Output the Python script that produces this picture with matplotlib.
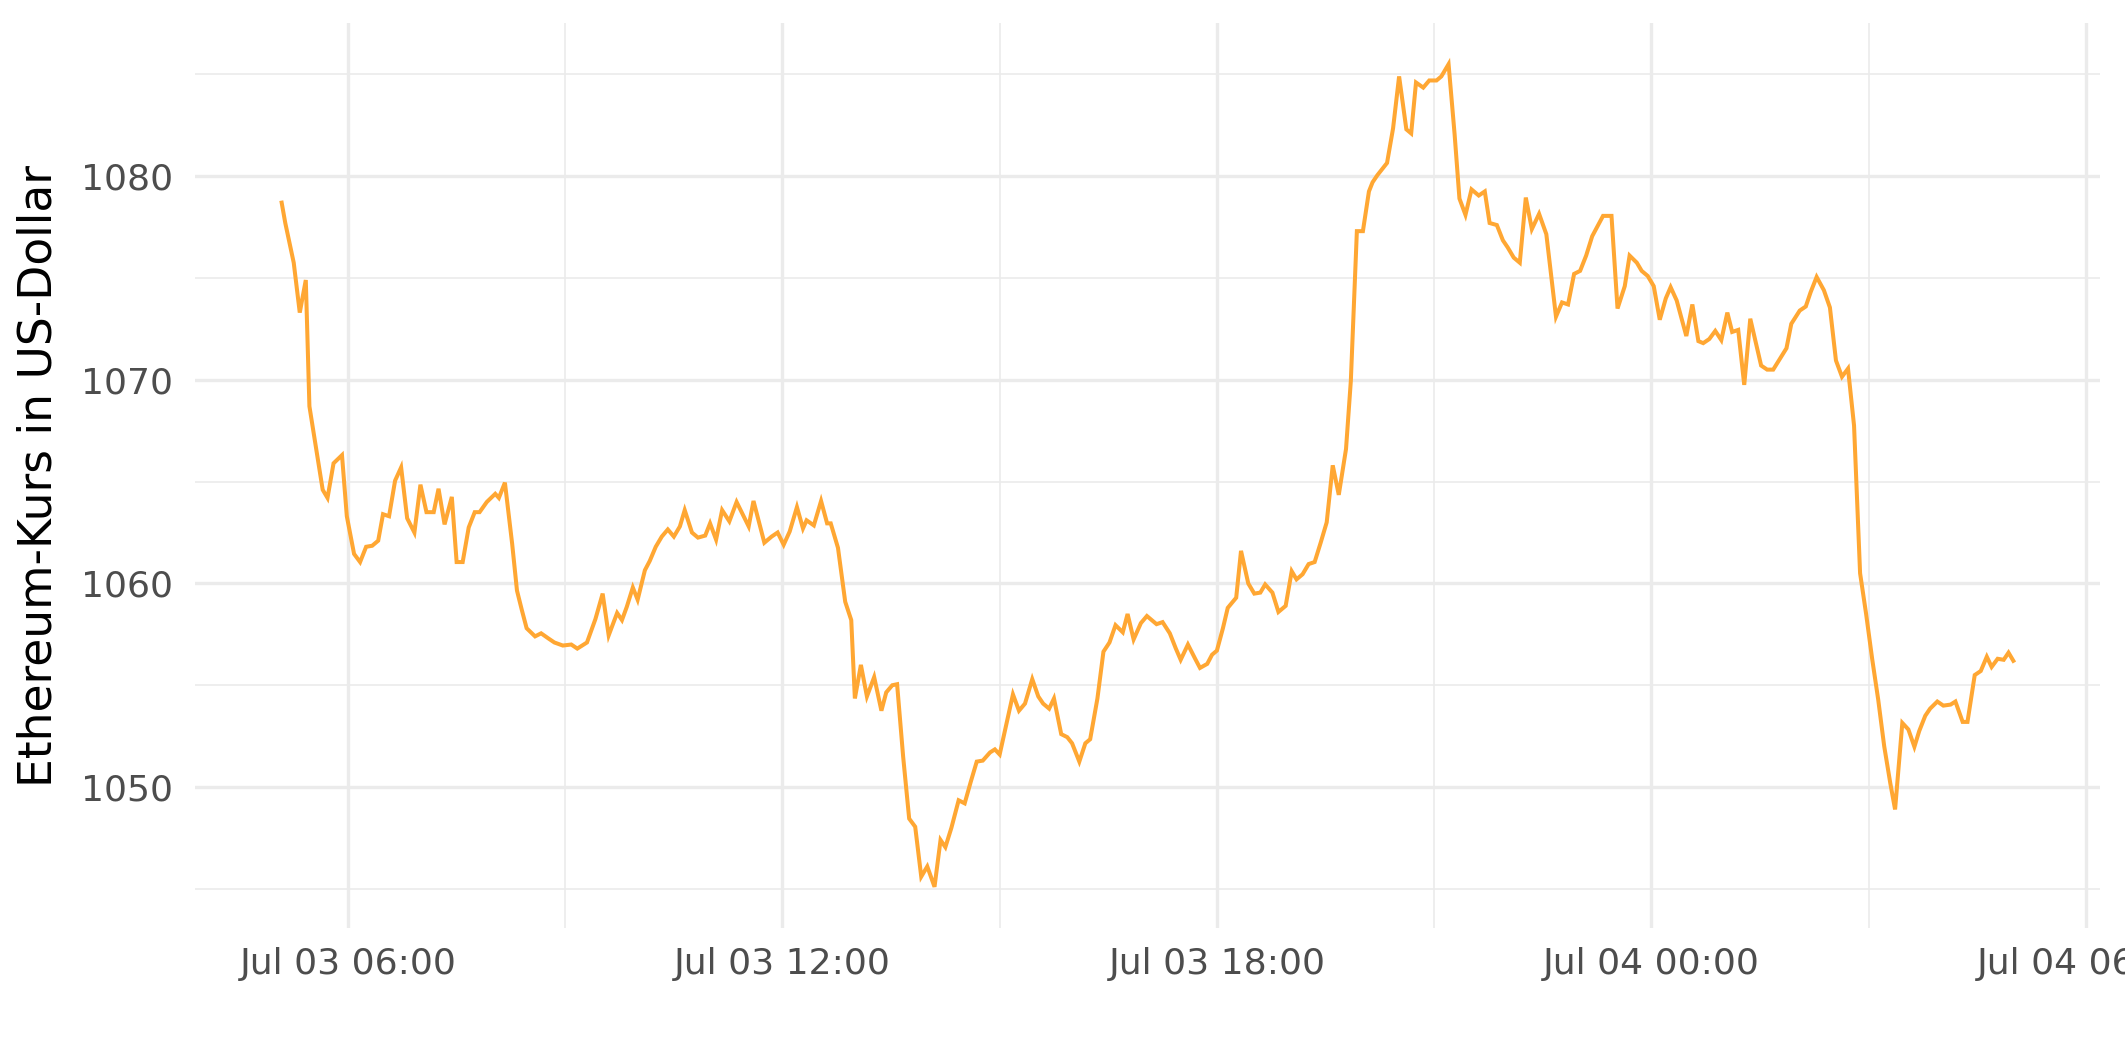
#%% Librerias
import numpy as np
import pandas as pd
import matplotlib
matplotlib.use('Agg')
import matplotlib.pyplot as plt
import matplotlib.dates as mdates

plt.rcParams['font.family'] = ['DejaVu Sans']

#%% Datos (minutos desde 2022-07-03 00:00, precio en USD)
minutos = [305, 308, 315, 320, 325, 328, 339, 343, 348, 355,
           359, 365, 370, 375, 380, 385, 389, 394, 399, 404,
           409, 415, 420, 425, 431, 435, 440, 446, 450, 455,
           460, 465, 469, 475, 482, 485, 490, 496, 500, 504,
           508, 515, 520, 526, 531, 538, 545, 550, 558, 565,
           571, 576, 583, 587, 591, 596, 600, 606, 610, 615,
           620, 625, 630, 635, 639, 645, 650, 656, 660, 665,
           670, 676, 682, 692, 696, 705, 711, 716, 721, 726,
           732, 737, 740, 746, 752, 757, 760, 766, 772, 777,
           780, 785, 790, 796, 802, 806, 811, 815, 820, 825,
           830, 835, 840, 846, 851, 855, 860, 866, 871, 876,
           881, 886, 892, 896, 900, 905, 911, 916, 921, 927,
           932, 936, 941, 945, 951, 956, 960, 966, 971, 975,
           981, 986, 991, 996, 1002, 1006, 1011, 1017, 1022, 1030,
           1035, 1041, 1046, 1050, 1056, 1062, 1066, 1072, 1076, 1080,
           1085, 1089, 1096, 1100, 1106, 1111, 1116, 1120, 1126, 1131,
           1137, 1142, 1146, 1151, 1156, 1161, 1166, 1171, 1176, 1181,
           1187, 1191, 1196, 1201, 1206, 1209, 1213, 1221, 1226, 1231,
           1237, 1241, 1245, 1251, 1256, 1262, 1266, 1272, 1277, 1281,
           1286, 1291, 1297, 1302, 1306, 1312, 1317, 1321, 1326, 1331,
           1336, 1341, 1347, 1353, 1361, 1366, 1371, 1376, 1381, 1386,
           1391, 1400, 1407, 1412, 1418, 1422, 1428, 1432, 1437, 1442,
           1447, 1452, 1456, 1461, 1469, 1474, 1479, 1483, 1488, 1493,
           1498, 1503, 1507, 1512, 1517, 1522, 1531, 1536, 1541, 1552,
           1556, 1563, 1568, 1572, 1577, 1583, 1588, 1593, 1598, 1603,
           1608, 1613, 1618, 1623, 1628, 1633, 1638, 1642, 1648, 1653,
           1658, 1662, 1667, 1671, 1677, 1682, 1688, 1692, 1698, 1702,
           1708, 1713, 1718, 1722, 1727, 1732, 1736, 1740]

precio = [1078.7, 1077.7, 1075.75, 1073.3, 1074.9, 1068.7, 1064.6, 1064.2, 1065.9, 1066.3,
          1063.3, 1061.45, 1061.05, 1061.8, 1061.85, 1062.1, 1063.4, 1063.3, 1065.05, 1065.7,
          1063.2, 1062.5, 1064.85, 1063.5, 1063.5, 1064.65, 1062.9, 1064.25, 1061.05, 1061.05,
          1062.75, 1063.5, 1063.5, 1064.0, 1064.4, 1064.2, 1064.95, 1061.95, 1059.65, 1058.7,
          1057.8, 1057.4, 1057.55, 1057.3, 1057.1, 1056.95, 1057.0, 1056.8, 1057.1, 1058.25,
          1059.5, 1057.45, 1058.55, 1058.2, 1058.85, 1059.8, 1059.2, 1060.65, 1061.1, 1061.8,
          1062.3, 1062.65, 1062.3, 1062.8, 1063.6, 1062.5, 1062.25, 1062.35, 1062.95, 1062.15,
          1063.6, 1063.05, 1064.0, 1062.8, 1064.05, 1062.0, 1062.3, 1062.5, 1061.9, 1062.55,
          1063.75, 1062.7, 1063.1, 1062.85, 1064.05, 1062.95, 1062.95, 1061.75, 1059.1, 1058.2,
          1054.35, 1056.0, 1054.45, 1055.4, 1053.75, 1054.65, 1055.0, 1055.05, 1051.5, 1048.45,
          1048.05, 1045.6, 1046.1, 1045.1, 1047.4, 1047.05, 1048.0, 1049.35, 1049.2, 1050.25,
          1051.25, 1051.3, 1051.7, 1051.85, 1051.6, 1052.95, 1054.55, 1053.75, 1054.1, 1055.3,
          1054.45, 1054.1, 1053.85, 1054.35, 1052.6, 1052.45, 1052.15, 1051.25, 1052.15, 1052.35,
          1054.35, 1056.65, 1057.1, 1057.95, 1057.6, 1058.5, 1057.25, 1058.05, 1058.4, 1058.0,
          1058.1, 1057.55, 1056.8, 1056.25, 1057.0, 1056.3, 1055.85, 1056.05, 1056.5, 1056.7,
          1057.8, 1058.8, 1059.3, 1061.6, 1060.0, 1059.5, 1059.55, 1059.95, 1059.55, 1058.6,
          1058.9, 1060.6, 1060.2, 1060.45, 1060.95, 1061.05, 1062.0, 1063.0, 1065.8, 1064.35,
          1066.6, 1069.95, 1077.3, 1077.3, 1079.25, 1079.7, 1080.05, 1080.65, 1082.35, 1084.9,
          1082.3, 1082.1, 1084.6, 1084.35, 1084.7, 1084.7, 1084.9, 1085.5, 1082.05, 1078.9,
          1078.1, 1079.35, 1079.05, 1079.25, 1077.7, 1077.6, 1076.85, 1076.5, 1076.0, 1075.75,
          1078.95, 1077.4, 1078.15, 1077.15, 1073.1, 1073.8, 1073.7, 1075.2, 1075.35, 1076.1,
          1077.05, 1078.05, 1078.05, 1073.5, 1074.6, 1076.1, 1075.75, 1075.35, 1075.1, 1074.6,
          1072.95, 1074.0, 1074.55, 1073.9, 1072.15, 1073.7, 1071.9, 1071.8, 1072.0, 1072.4,
          1071.95, 1073.3, 1072.35, 1072.45, 1069.75, 1073.0, 1070.7, 1070.5, 1070.5, 1071.55,
          1072.75, 1073.4, 1073.6, 1074.3, 1075.05, 1074.4, 1073.55, 1070.95, 1070.15, 1070.55,
          1067.75, 1060.5, 1058.5, 1056.3, 1054.3, 1052.0, 1050.2, 1048.9, 1053.15, 1052.83,
          1051.98, 1052.75, 1053.5, 1053.85, 1054.2, 1054.0, 1054.05, 1054.2, 1053.2, 1053.2,
          1055.5, 1055.7, 1056.4, 1055.9, 1056.3, 1056.25, 1056.6, 1056.2]

tiempo = pd.Timestamp('2022-07-03') + pd.to_timedelta(minutos, unit='m')
t_num = mdates.date2num(tiempo.to_pydatetime())
y = np.array(precio)

#%% Figura
fig = plt.figure(figsize=(10.625, 5.31), dpi=200)
ax = fig.add_axes([0.0918, 0.1262, 0.8964, 0.8521])

ax.plot(t_num, y, c='#FFA733', lw=1.45, solid_joinstyle='miter')

# expansion 5% estilo ggplot
dx = 0.05*(t_num.max()-t_num.min())
dy = 0.05*(y.max()-y.min())
ax.set_xlim(t_num.min()-dx, t_num.max()+dx)
ax.set_ylim(y.min()-dy, y.max()+dy)

ax.xaxis.set_major_locator(mdates.HourLocator(byhour=[0, 6, 12, 18]))
ax.xaxis.set_minor_locator(mdates.HourLocator(byhour=[3, 9, 15, 21]))
ax.xaxis.set_major_formatter(mdates.DateFormatter('%b %d %H:%M'))
ax.set_yticks([1050, 1060, 1070, 1080])
ax.set_yticks([1045, 1055, 1065, 1075, 1085], minor=True)

ax.grid(which='major', color='#EBEBEB', lw=1.2)
ax.grid(which='minor', color='#EBEBEB', lw=0.6)
ax.set_axisbelow(True)
for s in ax.spines.values():
    s.set_visible(False)
ax.tick_params(which='both', length=0)
ax.tick_params(axis='x', pad=7, labelsize=13, labelcolor='#4D4D4D')
ax.tick_params(axis='y', pad=8, labelsize=13, labelcolor='#4D4D4D')

ax.set_ylabel('Ethereum-Kurs in US-Dollar', fontsize=16.4, color='black', va='center')
ax.yaxis.set_label_coords(-0.0819, 0.5)

fig.savefig('out.png', dpi=200)
